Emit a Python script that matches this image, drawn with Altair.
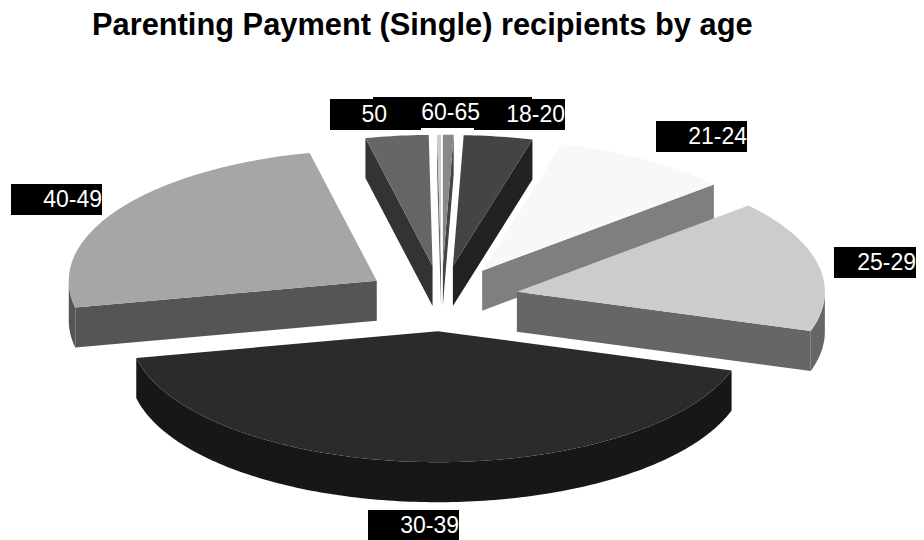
import math
import altair as alt

# ---- chart values (share of recipients, %)
ages = ["Under 18", "18-20", "21-24", "25-29", "30-39", "40-49", "50-59", "60-65"]
shares = [0.56, 3.6, 9.4, 16.3, 41.9, 24.8, 3.3, 0.2]

# ---- styles
top_colors = ["#888888", "#444444", "#f8f8f8", "#cccccc", "#2b2b2b", "#a6a6a6", "#666666", "#cccccc"]
side_colors = ["#444444", "#222222", "#7f7f7f", "#666666", "#171717", "#555555", "#333333", "#666666"]
draw_order = ["60-65", "Under 18", "50-59", "18-20", "21-24", "40-49", "25-29", "30-39"]

# ---- pie geometry, in the chart's own pixels
MARGIN = 8
CX, CY = 441.5 - MARGIN, 298.5 - MARGIN
RX, RY = 308.0, 131.0
EXPLODE = 77.0
DEPTH = 40.0

# ---- labels: text, right edge, baseline; boxes: x0, y0, x1, y1
title_text = "Parenting Payment (Single) recipients by age"
label_text = ["18-20", "21-24", "25-29", "30-39", "40-49", "50", "60-65"]
label_right = [565, 747, 916, 459, 102, 387, 480]
label_base = [122, 144, 270, 533, 207, 122, 120]
boxes = [(373, 97, 532, 128), (474, 99, 565, 130), (330, 99, 421, 130), (389, 97, 480, 128),
         (656, 121, 747, 152), (834, 247, 916, 278), (368, 510, 459, 540), (11, 184, 102, 215)]


def poly(points, color):
    ring = [list(p) for p in points]
    ring.append(ring[0])
    return {"type": "Feature", "properties": {"color": color},
            "geometry": {"type": "Polygon", "coordinates": [ring]}}


total = sum(shares)
slices = {}
start = 0.0
for name, share, top, side in zip(ages, shares, top_colors, side_colors):
    end = start + share / total * 360.0
    slices[name] = (start, end, top, side)
    start = end


def rim(ax, ay, deg):
    t = math.radians(deg)
    return ax + RX * math.sin(t), ay - RY * math.cos(t)


def arc_degrees(a, b):
    n = max(2, int(b - a) + 2)
    return [a + (b - a) * i / (n - 1) for i in range(n)]


features = []
for name in draw_order:
    a, b, top, side = slices[name]
    mid = math.radians((a + b) / 2)
    ax = CX + EXPLODE * math.sin(mid)
    ay = CY - EXPLODE * RY / RX * math.cos(mid)
    # outer rim that faces the viewer
    lo, hi = max(a, 90), min(b, 270)
    if lo < hi:
        pts = [rim(ax, ay, d) for d in arc_degrees(lo, hi)]
        wall = pts + [(x, y + DEPTH) for x, y in reversed(pts)]
        features.append(poly(wall, side))
    # radial walls that face the viewer
    for edge, visible in ((a, math.sin(math.radians(a)) < 0), (b, math.sin(math.radians(b)) > 0)):
        if visible:
            x, y = rim(ax, ay, edge)
            features.append(poly([(ax, ay), (x, y), (x, y + DEPTH), (ax, ay + DEPTH)], side))
    # top face
    features.append(poly([(ax, ay)] + [rim(ax, ay, d) for d in arc_degrees(a, b)], top))

for x0, y0, x1, y1 in boxes:
    features.append(poly([(x0 - MARGIN, y0 - MARGIN), (x1 - MARGIN, y0 - MARGIN),
                          (x1 - MARGIN, y1 - MARGIN), (x0 - MARGIN, y1 - MARGIN)], "#000000"))

projection = dict(type="identity", scale=1, translate=[0, 0])

shapes = alt.Chart(alt.Data(values=features)).mark_geoshape(strokeWidth=0).encode(
    fill=alt.Color("properties.color:N", scale=None)
).project(**projection)

label_rows = [{"label": t, "lon": r - MARGIN, "lat": b - MARGIN}
              for t, r, b in zip(label_text, label_right, label_base)]
labels = alt.Chart(alt.Data(values=label_rows)).mark_text(
    font="Liberation Sans", fontSize=23, color="white", align="right", baseline="alphabetic"
).encode(longitude="lon:Q", latitude="lat:Q", text="label:N").project(**projection)

title = alt.Chart(alt.Data(values=[{"label": title_text, "lon": 92 - MARGIN, "lat": 35 - MARGIN}])).mark_text(
    font="Liberation Sans", fontSize=30.8, fontWeight="bold", color="black", align="left", baseline="alphabetic"
).encode(longitude="lon:Q", latitude="lat:Q", text="label:N").project(**projection)

chart = alt.layer(shapes, labels, title).properties(
    width=908, height=532, padding=0, autosize=alt.AutoSizeParams(type="none")
).configure_view(stroke=None)

chart.save("out.html", embed_options={"renderer": "svg", "actions": False})
